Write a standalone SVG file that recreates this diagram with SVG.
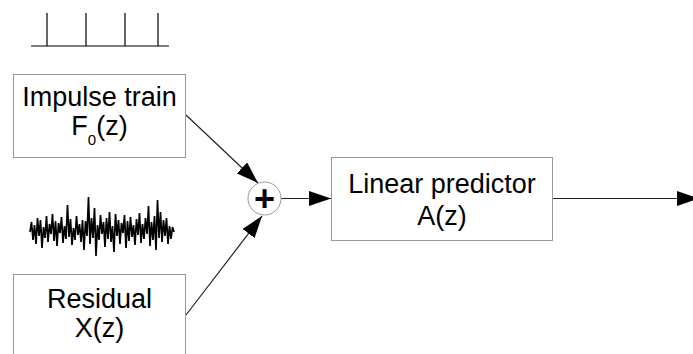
<svg xmlns="http://www.w3.org/2000/svg" width="693" height="354" viewBox="0 0 693 354">
<style>
.box{fill:#fff;stroke:#999;stroke-width:1}
.lbl{font-family:"Liberation Sans",Arial,sans-serif;font-size:27px;fill:#000;text-anchor:middle}
.plus{font-family:"Liberation Sans",Arial,sans-serif;font-size:36px;font-weight:bold;fill:#000;text-anchor:middle}
.conn{stroke:#222;stroke-width:1.2;fill:none}
.sig{stroke:#000;fill:none}
</style>
<defs>
<marker id="ah" markerUnits="userSpaceOnUse" markerWidth="24" markerHeight="16" refX="22" refY="7.5" orient="auto">
<path d="M0,0 L22,7.5 L0,15 z" fill="#000"/>
</marker>
</defs>
<rect width="693" height="354" fill="#fff"/>
<g id="impulse-signal" class="sig" stroke-width="1.2">
<path d="M31,46 H169 M47,46 V13 M86,46 V13 M125,46 V13 M158,46 V13"/>
</g>
<g id="noise-signal">
<polyline class="sig" stroke-width="1.7" stroke-linejoin="miter" points="30,232 31.5,222 33,240 34.5,225 36,244 37.5,218 39,236 40.5,220 42,248 43.5,227 45,238 46.5,216 48,242 49.5,224 51,234 52.5,214 54,241 55.5,221 57,246 58.5,223 60,233 61.5,217 63,243 64.5,226 66,239 67.5,205 69,237 70.5,219 72,245 73.5,228 75,240 76.5,216 78,235 79.5,224 81,242 82.5,220 84,250 85.5,221 87,236 88.5,197 90,244 91.5,218 93,238 94.5,208 96,256 97.5,225 99,240 100.5,215 102,234 103.5,222 105,247 106.5,218 108,239 109.5,212 111,242 112.5,226 114,252 115.5,214 117,236 118.5,220 120,244 121.5,223 123,233 124.5,215 126,248 127.5,221 129,241 130.5,217 132,237 133.5,225 135,245 136.5,219 138,235 139.5,213 141,243 142.5,224 144,239 145.5,218 147,234 148.5,206 150,246 151.5,222 153,240 154.5,216 156,250 157.5,200 159,238 160.5,212 162,242 163.5,220 165,236 166.5,218 168,244 169.5,226 171,239 172.5,227 174,232"/>
</g>
<g id="connectors">
<line class="conn" x1="186" y1="115" x2="258" y2="183" marker-end="url(#ah)"/>
<line class="conn" x1="186" y1="315" x2="262" y2="216" marker-end="url(#ah)"/>
<line class="conn" x1="281" y1="198.5" x2="331" y2="198.5" marker-end="url(#ah)"/>
<line class="conn" x1="552" y1="198.5" x2="699" y2="198.5" marker-end="url(#ah)"/>
</g>
<g id="impulse-train">
<rect class="box" x="13.5" y="74.5" width="172" height="83"/>
<text class="lbl" x="99.5" y="106">Impulse train</text>
<text class="lbl" x="99.5" y="135">F<tspan font-size="15" dy="10">0</tspan><tspan dy="-10">(z)</tspan></text>
</g>
<g id="residual">
<rect class="box" x="13.5" y="274.5" width="172" height="100"/>
<text class="lbl" x="99.5" y="308">Residual</text>
<text class="lbl" x="99.5" y="337">X(z)</text>
</g>
<g id="sum">
<circle cx="264.5" cy="198.5" r="16.5" fill="#fff" stroke="#999" stroke-width="1"/>
<text class="plus" x="264.5" y="211">+</text>
</g>
<g id="linear-predictor">
<rect class="box" x="331.5" y="157.5" width="221" height="83"/>
<text class="lbl" x="442" y="193">Linear predictor</text>
<text class="lbl" x="442" y="225">A(z)</text>
</g>
</svg>
